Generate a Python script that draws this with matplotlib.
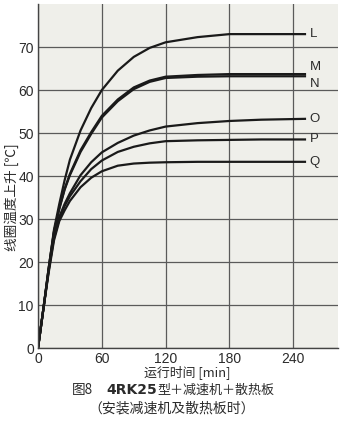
import matplotlib
matplotlib.use("Agg")
import matplotlib.pyplot as plt

# 读取的曲线数据 (时间 [min], 温升 [℃])
t = [0, 5, 10, 15, 20, 25, 30, 40, 50, 60, 75, 90, 105, 120, 150, 180, 210, 252]
L = [0, 9, 18.5, 27.5, 33.5, 39, 43.8, 50.6, 55.8, 60, 64.5, 67.7, 69.8, 71.1, 72.3, 73, 73, 73]
M = [0, 9, 18.5, 27, 32.5, 37, 40.5, 46, 50.2, 54, 57.8, 60.6, 62.2, 63.1, 63.5, 63.7, 63.7, 63.7]
N = [0, 9, 18.5, 27, 32.3, 36.8, 40.2, 45.6, 49.8, 53.6, 57.4, 60.2, 61.9, 62.8, 63.1, 63.2, 63.2, 63.2]
O = [0, 9, 18, 26, 30.5, 33.5, 36, 40.2, 43.2, 45.5, 47.7, 49.4, 50.6, 51.5, 52.3, 52.8, 53.1, 53.3]
P = [0, 9, 18, 25.5, 30, 33, 35.3, 38.8, 41.6, 43.6, 45.6, 46.8, 47.6, 48.1, 48.3, 48.4, 48.5, 48.5]
Q = [0, 9, 17.5, 25, 29.5, 32, 34.2, 37.4, 39.6, 41.1, 42.4, 42.9, 43.1, 43.2, 43.3, 43.3, 43.3, 43.3]

curves = [L, M, N, O, P, Q]
names = ["L", "M", "N", "O", "P", "Q"]
label_y = [73, 65.4, 61.5, 53.3, 48.5, 43.3]

xticks = [0, 60, 120, 180, 240]
yticks = [0, 10, 20, 30, 40, 50, 60, 70]

num_font = ["Liberation Sans Narrow", "Liberation Sans", "DejaVu Sans"]
cjk_font = ["Noto Sans CJK SC", "DejaVu Sans"]
txt = "#2b2b2b"

fig = plt.figure(figsize=(3.5, 4.23), dpi=100)
ax = fig.add_axes([0.1086, 0.1773, 0.8571, 0.8132])
ax.set_facecolor("#EFEFEA")

for c in curves:
    ax.plot(t, c, color="#1a1a1a", lw=1.6, solid_capstyle="butt")

for n, yy in zip(names, label_y):
    ax.text(255.5, yy, n, fontsize=9.5, color=txt, va="center", ha="left",
            family=num_font)

ax.set_xlim(0, 282)
ax.set_ylim(0, 80)
ax.set_xticks(xticks)
ax.set_yticks(yticks)
ax.grid(True, color="#5a5a5a", lw=0.9)
ax.set_axisbelow(True)
ax.tick_params(length=0, pad=3, labelsize=10, labelcolor=txt)
for lab in ax.get_xticklabels() + ax.get_yticklabels():
    lab.set_family(num_font)
for s in ["top", "right"]:
    ax.spines[s].set_visible(False)
for s in ["left", "bottom"]:
    ax.spines[s].set_color("#444444")
    ax.spines[s].set_linewidth(1.0)

# 轴标签
fig.text(12 / 350, 1 - 197 / 423, "线圈温度上升 [℃]", rotation=90, fontsize=9.8,
         color=txt, ha="center", va="center", family=cjk_font)
fig.text(187 / 350, 1 - 372 / 423, "运行时间 [min]", fontsize=9.3, color=txt,
         ha="center", va="center", family=cjk_font)

# 图题
yc = 1 - 390 / 423
fig.text(72 / 350, yc, "图8", fontsize=9.8, color=txt, ha="left", va="center",
         family=cjk_font)
t1 = fig.text(106 / 350, yc, "4RK25", fontsize=10, color=txt, ha="left", va="center",
              family=["DejaVu Sans"], weight="bold")
fig.canvas.draw()
bb = t1.get_window_extent()
fig.text(bb.x1 / 350 + 0.003, yc, "型＋减速机＋散热板", fontsize=9.4, color=txt, ha="left",
         va="center", family=cjk_font)
fig.text(172 / 350, 1 - 409 / 423, "（安装减速机及散热板时）", fontsize=10, color=txt,
         ha="center", va="center", family=cjk_font)

fig.savefig("out.png", dpi=100)
